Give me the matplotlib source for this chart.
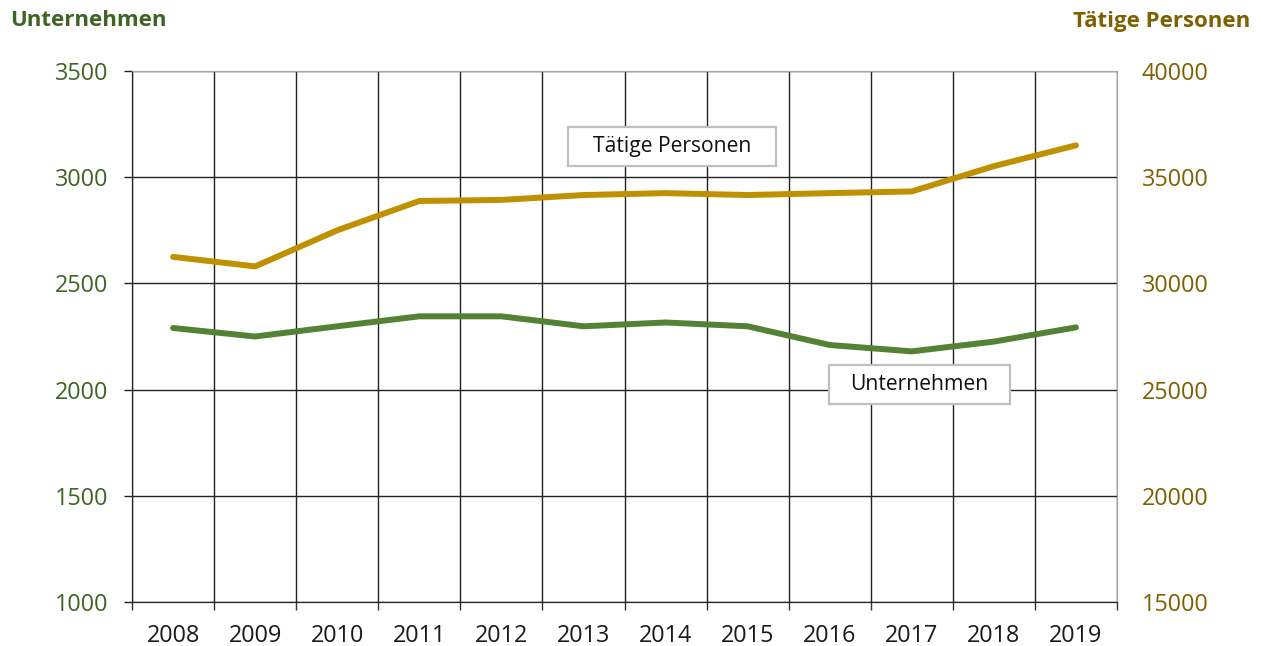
import numpy as np
import matplotlib.pyplot as plt
from matplotlib.patches import Rectangle

# ------------------------------------------------------------
# Data
# ------------------------------------------------------------
years = ["2008", "2009", "2010", "2011", "2012", "2013",
         "2014", "2015", "2016", "2017", "2018", "2019"]

unternehmen = [2290, 2250, 2298, 2345, 2345, 2298,
               2316, 2298, 2210, 2180, 2226, 2293]

taetige_personen = [31250, 30800, 32500, 33880, 33930, 34160,
                    34250, 34160, 34250, 34330, 35520, 36500]

left_ticks = [1000, 1500, 2000, 2500, 3000, 3500]
right_ticks = [15000, 20000, 25000, 30000, 35000, 40000]

green = "#548235"
gold = "#BF9000"
green_txt = "#3F6424"
gold_txt = "#7F6000"

plt.rcParams["font.family"] = ["Open Sans", "DejaVu Sans"]

fig = plt.figure(figsize=(12.61, 6.46), dpi=100)
ax = fig.add_axes([0.1047, 0.0681, 0.7811, 0.822])
ax2 = ax.twinx()

x = np.arange(len(years))

ax.plot(x, unternehmen, color=green, lw=4.3, solid_capstyle="round",
        solid_joinstyle="round", zorder=3)
ax2.plot(x, taetige_personen, color=gold, lw=4.3, solid_capstyle="round",
         solid_joinstyle="round", zorder=3)

ax.set_xlim(-0.5, len(years) - 0.5)
ax.set_ylim(1000, 3500)
ax2.set_ylim(15000, 40000)

# category labels at centres, gridlines/ticks at boundaries
ax.set_xticks(x)
ax.set_xticklabels(years, fontsize=16.8, color="#1a1a1a")
ax.tick_params(axis="x", which="major", length=0, pad=16)
ax.set_xticks(np.arange(-0.5, len(years)), minor=True)
ax.tick_params(axis="x", which="minor", length=5.8, width=1, color="#333333")
ax.grid(True, axis="x", which="minor", color="#222222", lw=1)

ax.set_yticks(left_ticks)
ax.set_yticklabels([str(v) for v in left_ticks], fontsize=16.8, color=green_txt)
ax.tick_params(axis="y", length=5.8, width=1, color="#222222", pad=11.5)
ax.grid(True, axis="y", color="#222222", lw=1)
ax.set_axisbelow(True)

ax2.set_yticks(right_ticks)
ax2.set_yticklabels([str(v) for v in right_ticks], fontsize=16.8, color=gold_txt)
ax2.tick_params(axis="y", length=0, pad=18)

for a in (ax, ax2):
    a.spines["top"].set_color("#A6A6A6")
    a.spines["right"].set_color("#A6A6A6")
    a.spines["left"].set_color("#222222")
    a.spines["bottom"].set_color("#222222")

# series labels in boxes (axes fraction)
for (bx, by, bw, bh), label in [((0.4426, 0.8211, 0.2112, 0.0734), "Tätige Personen"),
                                 ((0.7076, 0.3729, 0.1838, 0.0734), "Unternehmen")]:
    ax2.add_patch(Rectangle((bx, by), bw, bh, transform=ax2.transAxes,
                            facecolor="white", edgecolor="#BFBFBF", lw=1.6, zorder=5))
    ax2.text(bx + bw / 2, by + bh / 2, label, transform=ax2.transAxes,
             fontsize=15.2, ha="center", va="center", color="#111111", zorder=6)

# axis titles
fig.text(10 / 1261, 1 - 20 / 646, "Unternehmen", fontsize=16, fontweight="bold",
         color=green_txt, ha="left", va="center")
fig.text(1250 / 1261, 1 - 22 / 646, "Tätige Personen", fontsize=16, fontweight="bold",
         color=gold_txt, ha="right", va="center")

fig.savefig("out.png", dpi=100)
